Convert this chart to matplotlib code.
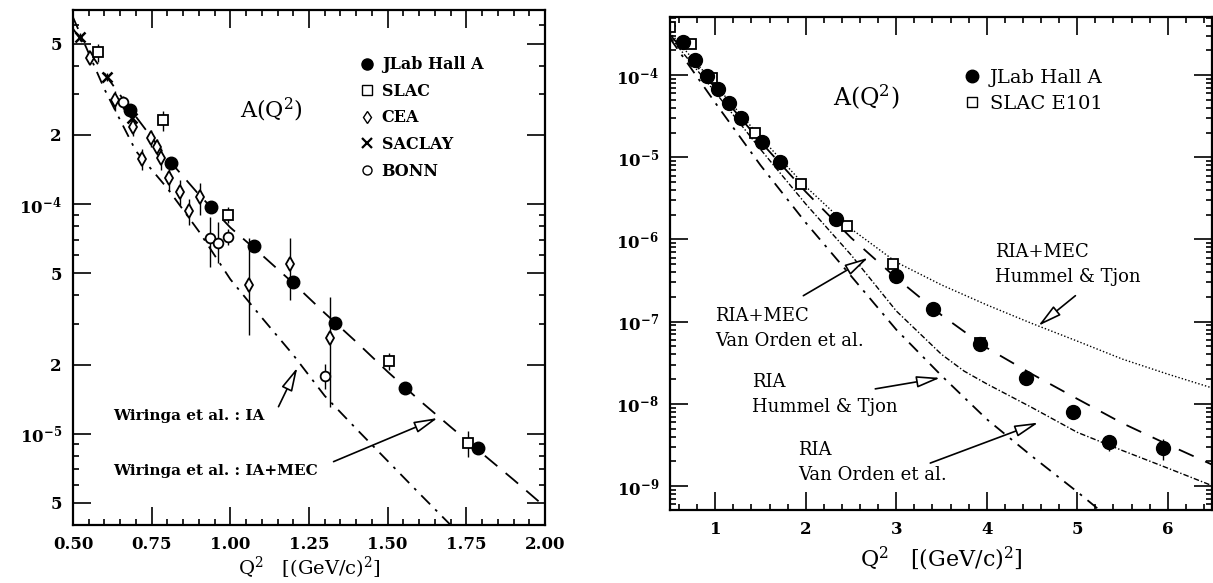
import numpy as np
import matplotlib
matplotlib.use("Agg")
import matplotlib.pyplot as plt
from matplotlib import ticker
from matplotlib.lines import Line2D

plt.rcParams['font.family'] = ['DejaVu Serif']
plt.rcParams['mathtext.fontset'] = 'dejavuserif'

# ---------------- left panel data (0.5 - 2.0 GeV^2) ----------------
jlab_q2 = [0.682, 0.812, 0.939, 1.074, 1.200, 1.334, 1.554, 1.787]
jlab_a = [2.56e-4, 1.51e-4, 9.7e-5, 6.57e-5, 4.58e-5, 3.04e-5, 1.58e-5, 8.7e-6]
jlab_err = [7.7e-6, 4.5e-6, 2.9e-6, 2.0e-6, 1.4e-6, 9e-7, 5e-7, 3e-7]

slac_q2 = [0.580, 0.787, 0.993, 1.503, 1.755]
slac_a = [4.58e-4, 2.32e-4, 8.96e-5, 2.07e-5, 9.1e-6]
slac_err = [4.1e-5, 2.3e-5, 7e-6, 1.7e-6, 1.2e-6]

cea_q2 = [0.554, 0.634, 0.691, 0.720, 0.748, 0.767, 0.780, 0.806, 0.841, 0.870, 0.902, 1.060, 1.190, 1.318]
cea_a = [4.31e-4, 2.83e-4, 2.16e-4, 1.57e-4, 1.94e-4, 1.77e-4, 1.58e-4, 1.30e-4, 1.13e-4, 9.3e-5, 1.07e-4, 4.45e-5, 5.48e-5, 2.62e-5]
cea_lo = [2.1e-5, 2.8e-5, 1.9e-5, 1.6e-5, 1.6e-5, 1.4e-5, 1.7e-5, 1.6e-5, 1.4e-5, 1.2e-5, 1.7e-5, 1.75e-5, 1.66e-5, 1.32e-5]
cea_hi = [2.2e-5, 2.8e-5, 1.9e-5, 1.6e-5, 1.6e-5, 1.4e-5, 1.7e-5, 1.6e-5, 1.4e-5, 1.2e-5, 1.7e-5, 2.65e-5, 1.63e-5, 1.33e-5]

saclay_q2 = [0.522, 0.608, 0.688]
saclay_a = [5.32e-4, 3.57e-4, 2.37e-4]
saclay_err = [2.1e-5, 1.4e-5, 9e-6]

bonn_q2 = [0.660, 0.936, 0.962, 0.993, 1.302]
bonn_a = [2.77e-4, 7.12e-5, 6.77e-5, 7.2e-5, 1.79e-5]
bonn_lo = [1.9e-5, 1.79e-5, 1.22e-5, 5.8e-6, 2.3e-6]
bonn_hi = [1.9e-5, 1.67e-5, 1.58e-5, 5.8e-6, 2.3e-6]

# Wiringa et al. curves
th_q2 = [0.50, 0.60, 0.70, 0.80, 0.90, 1.00, 1.10, 1.20, 1.30, 1.40, 1.50, 1.60, 1.70, 1.80, 1.90, 2.00]
ia_mec = [5.8e-4, 3.7e-4, 2.4e-4, 1.58e-4, 1.10e-4, 7.9e-5, 6.0e-5, 4.52e-5, 3.35e-5, 2.51e-5, 1.86e-5, 1.40e-5, 1.07e-5, 8.2e-6, 6.3e-6, 4.8e-6]
ia_q2 = [0.50, 0.60, 0.70, 0.80, 0.90, 1.00, 1.10, 1.20, 1.30, 1.40, 1.50, 1.60, 1.70]
ia = [6.5e-4, 3.16e-4, 1.70e-4, 1.17e-4, 7.6e-5, 4.7e-5, 3.2e-5, 2.2e-5, 1.46e-5, 1.05e-5, 7.6e-6, 5.5e-6, 4.0e-6]

# ---------------- right panel data (0.5 - 6.5 GeV^2) ----------------
jlab_q2_r = [0.647, 0.779, 0.912, 1.033, 1.155, 1.288, 1.520, 1.718, 2.337, 3.000, 3.410, 3.930, 4.430, 4.950, 5.350, 5.950]
jlab_a_r = [2.52e-4, 1.52e-4, 9.7e-5, 6.75e-5, 4.56e-5, 2.99e-5, 1.53e-5, 8.7e-6, 1.8e-6, 3.6e-7, 1.41e-7, 5.4e-8, 2.09e-8, 8.0e-9, 3.4e-9, 2.9e-9]
jlab_err_r = [1.0e-5, 6e-6, 4e-6, 2.7e-6, 1.8e-6, 1.2e-6, 6e-7, 3.5e-7, 9e-8, 2.5e-8, 1.1e-8, 5.5e-9, 3.1e-9, 1.4e-9, 7e-10, 8e-10]

slac_q2_r = [0.50, 0.735, 0.967, 1.44, 1.95, 2.46, 2.96, 3.93]
slac_a_r = [3.9e-4, 2.39e-4, 9.2e-5, 1.96e-5, 4.8e-6, 1.44e-6, 5.1e-7, 5.5e-8]
slac_err_r = [2.5e-5, 1.4e-5, 5e-6, 1.2e-6, 3e-7, 1e-7, 3.5e-8, 6e-9]

th_q2_r = [0.5, 1.0, 1.5, 2.0, 2.5, 3.0, 3.5, 4.0, 4.5, 5.0, 5.5, 6.0, 6.5]
mec_ht = [3.3e-4, 7.6e-5, 1.75e-5, 4.4e-6, 1.35e-6, 5.3e-7, 2.8e-7, 1.6e-7, 9.5e-8, 5.8e-8, 3.5e-8, 2.3e-8, 1.55e-8]
mec_vo = [3.1e-4, 7.0e-5, 1.55e-5, 3.8e-6, 1.05e-6, 3.4e-7, 1.2e-7, 4.8e-8, 2.3e-8, 1.15e-8, 5.8e-9, 3.2e-9, 1.8e-9]
ria_vo_q2 = [0.5, 1.0, 1.5, 2.0, 2.5, 3.0, 3.5, 3.75, 4.0, 4.5, 5.0, 5.5, 6.0, 6.5]
ria_vo = [2.9e-4, 6.2e-5, 1.25e-5, 2.7e-6, 6.5e-7, 1.35e-7, 4.0e-8, 2.5e-8, 1.75e-8, 9.0e-9, 4.5e-9, 2.7e-9, 1.65e-9, 1.0e-9]
ria_ht_q2 = [0.5, 1.0, 1.5, 2.0, 2.5, 3.0, 3.5, 4.0, 4.5, 5.0, 5.5]
ria_ht = [2.8e-4, 4.6e-5, 8.0e-6, 1.6e-6, 3.6e-7, 8.0e-8, 2.2e-8, 6.5e-9, 2.3e-9, 8.5e-10, 3.0e-10]


def log_label(v, pos):
    e = int(np.floor(np.log10(v) + 1e-9))
    m = v / 10.0 ** e
    if abs(m - 1) < 1e-6:
        return r'$\mathbf{10^{%d}}$' % e
    return '%d' % round(m)


def frame(ax):
    for s in ax.spines.values():
        s.set_linewidth(1.6)
    ax.tick_params(which='both', direction='in', top=True, right=True, width=1.2)
    ax.tick_params(which='major', length=13, labelsize=12, pad=8)
    ax.tick_params(which='minor', length=4.5)


fig = plt.figure(figsize=(12.13, 5.83), dpi=100)
axl = fig.add_axes([0.0602, 0.0995, 0.3891, 0.8834])
axr = fig.add_axes([0.5524, 0.1252, 0.4468, 0.8456])

# ---------------- left ----------------
axl.set_yscale('log')
axl.set_xlim(0.5, 2.0)
axl.set_ylim(4.0e-6, 7.0e-4)

axl.plot(th_q2, ia_mec, color='k', lw=1.3, dashes=(9, 6))
axl.plot(ia_q2, ia, color='k', lw=1.3, dashes=(7, 4, 1.5, 4))

eb = dict(capsize=0, elinewidth=1.0, color='k', ls='none')
axl.errorbar(cea_q2, cea_a, yerr=[cea_lo, cea_hi], fmt='d', ms=7, mfc='white', mew=1.3, **eb)
axl.errorbar(bonn_q2, bonn_a, yerr=[bonn_lo, bonn_hi], fmt='o', ms=7, mfc='white', mew=1.3, **eb)
axl.errorbar(slac_q2, slac_a, yerr=slac_err, fmt='s', ms=6.5, mfc='white', mew=1.3, **eb)
axl.errorbar(saclay_q2, saclay_a, yerr=saclay_err, fmt='x', ms=7, mew=1.8, **eb)
axl.errorbar(jlab_q2, jlab_a, yerr=jlab_err, fmt='o', ms=9, **eb)

axl.xaxis.set_major_locator(ticker.MultipleLocator(0.25))
axl.xaxis.set_minor_locator(ticker.MultipleLocator(0.05))
axl.xaxis.set_major_formatter(ticker.FormatStrFormatter('%.2f'))
axl.yaxis.set_major_locator(ticker.FixedLocator([5e-6, 1e-5, 2e-5, 5e-5, 1e-4, 2e-4, 5e-4]))
axl.yaxis.set_minor_locator(ticker.LogLocator(subs=(3, 4, 6, 7, 8, 9), numticks=20))
axl.yaxis.set_major_formatter(ticker.FuncFormatter(log_label))
axl.yaxis.set_minor_formatter(ticker.NullFormatter())
frame(axl)
plt.setp(axl.get_xticklabels() + axl.get_yticklabels(), fontweight='bold')

axl.set_xlabel(r'Q$^2$   [(GeV/c)$^2$]', fontsize=14, labelpad=1)
axl.text(0.354, 0.806, r'A(Q$^2$)', transform=axl.transAxes, fontsize=16, va='center')

hl = [Line2D([], [], ls='', marker='o', color='k', ms=8),
      Line2D([], [], ls='', marker='s', color='k', mfc='white', ms=6.5),
      Line2D([], [], ls='', marker='d', color='k', mfc='white', ms=6.5),
      Line2D([], [], ls='', marker='x', color='k', ms=6.5, mew=1.6),
      Line2D([], [], ls='', marker='o', color='k', mfc='white', ms=6.5)]
axl.legend(hl, ['JLab Hall A', 'SLAC', 'CEA', 'SACLAY', 'BONN'], loc='upper left',
           bbox_to_anchor=(0.61, 0.91), frameon=False, prop={'weight': 'bold', 'size': 11.5},
           handlelength=0.8, handletextpad=0.5, labelspacing=0.6, borderpad=0, borderaxespad=0)

arr = dict(arrowstyle='-|>,head_length=0.9,head_width=0.22', fc='white', ec='k', lw=1.2,
           mutation_scale=16, shrinkA=0, shrinkB=0)
axl.annotate('', xy=(1.213, 1.94e-5), xytext=(1.153, 1.31e-5), arrowprops=arr)
axl.annotate('', xy=(1.659, 1.17e-5), xytext=(1.328, 7.55e-6), arrowprops=arr)
axl.text(0.627, 1.19e-5, 'Wiringa et al. : IA', fontsize=11, fontweight='bold', va='center')
axl.text(0.627, 6.84e-6, 'Wiringa et al. : IA+MEC', fontsize=11, fontweight='bold', va='center')

# ---------------- right ----------------
axr.set_yscale('log')
axr.set_xlim(0.5, 6.49)
axr.set_ylim(5.1e-10, 5.1e-4)

axr.plot(th_q2_r, mec_ht, color='k', lw=1.0, ls=(0, (1, 1.5)))
axr.plot(th_q2_r, mec_vo, color='k', lw=1.3, dashes=(9, 7))
axr.plot(ria_vo_q2, ria_vo, color='k', lw=1.0, dashes=(4, 1.5, 1, 1.5))
axr.plot(ria_ht_q2, ria_ht, color='k', lw=1.3, dashes=(7, 4, 1.5, 4))

axr.errorbar(slac_q2_r, slac_a_r, yerr=slac_err_r, fmt='s', ms=7, mfc='white', mew=1.3, **eb)
axr.errorbar(jlab_q2_r, jlab_a_r, yerr=jlab_err_r, fmt='o', ms=10, **eb)

axr.xaxis.set_major_locator(ticker.MultipleLocator(1))
axr.xaxis.set_minor_locator(ticker.MultipleLocator(0.2))
axr.yaxis.set_major_locator(ticker.LogLocator(numticks=20))
axr.yaxis.set_minor_locator(ticker.LogLocator(subs=np.arange(2, 10), numticks=20))
axr.yaxis.set_major_formatter(ticker.FuncFormatter(log_label))
axr.yaxis.set_minor_formatter(ticker.NullFormatter())
frame(axr)
plt.setp(axr.get_xticklabels() + axr.get_yticklabels(), fontweight='bold')

axr.set_xlabel(r'Q$^2$   [(GeV/c)$^2$]', fontsize=16, labelpad=5)
axr.text(0.30, 0.838, r'A(Q$^2$)', transform=axr.transAxes, fontsize=17, va='center')

hr = [Line2D([], [], ls='', marker='o', color='k', ms=9),
      Line2D([], [], ls='', marker='s', color='k', mfc='white', ms=7)]
axr.legend(hr, ['JLab Hall A', 'SLAC E101'], loc='upper left', bbox_to_anchor=(0.543, 0.895),
           frameon=False, prop={'size': 14}, handlelength=0.8, handletextpad=0.5,
           labelspacing=0.4, borderpad=0, borderaxespad=0)

axr.annotate('', xy=(4.57, 8.9e-8), xytext=(4.98, 2.07e-7), arrowprops=arr)
axr.annotate('', xy=(2.69, 6.0e-7), xytext=(1.973, 2.07e-7), arrowprops=arr)
axr.annotate('', xy=(3.486, 2.07e-8), xytext=(2.768, 1.52e-8), arrowprops=arr)
axr.annotate('', xy=(4.57, 5.9e-9), xytext=(3.376, 1.9e-9), arrowprops=arr)
txt = dict(fontsize=13, va='center', ha='left', linespacing=1.5)
axr.text(4.09, 4.9e-7, 'RIA+MEC\nHummel & Tjon', **txt)
axr.text(1.00, 8.3e-8, 'RIA+MEC\nVan Orden et al.', **txt)
axr.text(1.41, 1.3e-8, 'RIA\nHummel & Tjon', **txt)
axr.text(1.917, 1.94e-9, 'RIA\nVan Orden et al.', **txt)

fig.savefig('out.png', dpi=100)
